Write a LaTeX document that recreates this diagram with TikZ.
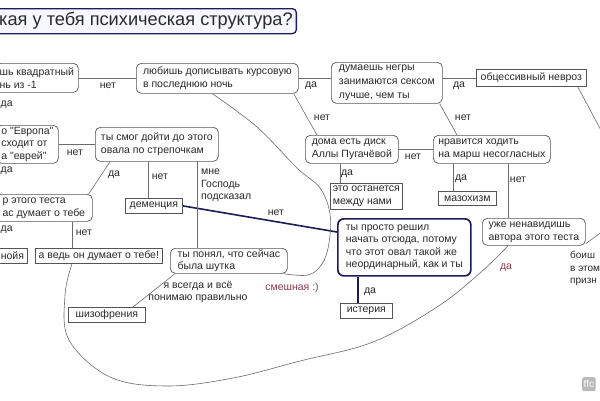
\documentclass[tikz,border=0pt]{standalone}
\usepackage{fontspec}
\setmainfont{Liberation Sans}[Ligatures=TeXOff]
\usetikzlibrary{calc,backgrounds}
\definecolor{ink}{HTML}{2A2A2A}
\definecolor{edgec}{HTML}{6B6B6B}
\definecolor{boxc}{HTML}{555555}
\definecolor{navy}{HTML}{1C1C5C}
\definecolor{maroonc}{HTML}{8E3B4B}
\begin{document}
\begin{tikzpicture}[x=1pt,y=-1pt,
  every node/.style={text=ink, font=\fontsize{10.5}{13}\selectfont},
  rbox/.style={draw=boxc, rounded corners=5pt, fill=white, inner xsep=4pt, inner ysep=1pt, align=left, anchor=north west, line width=0.7pt},
  strongbox/.style={rbox, draw=navy, line width=1.7pt, rounded corners=6pt},
  sbox/.style={draw=boxc, fill=white, inner xsep=2pt, inner ysep=0pt, anchor=north west, align=left, line width=0.7pt},
  lbl/.style={inner sep=0pt},
  conn/.style={draw=edgec, line width=0.6pt},
  strong/.style={draw=navy, line width=1.6pt},
]
\useasboundingbox (0,0) rectangle (600,400);
% title
\node[draw=navy, line width=1.3pt, fill=blue!3, rounded corners=4pt, anchor=north east, minimum width=320pt, minimum height=25pt] (tb) at (297,8) {};
\node[anchor=west, inner sep=0pt, font=\fontsize{18.2}{20}\selectfont] (tt) at (-1,20.5) {кая у тебя психическая структура?};
% rounded boxes
\node[rbox, minimum width=83pt, minimum height=29pt] (n1) at (-5,63) {шь квадратный\\нь из -1};
\node[rbox, minimum width=162pt, minimum height=30pt] (n2) at (136,63) {любишь дописывать курсовую\\в последнюю ночь};
\node[rbox, minimum width=111pt, minimum height=41pt, font=\fontsize{10.5}{14}\selectfont] (n3) at (331,62) {думаешь негры\\занимаются сексом\\лучше, чем ты};
\node[rbox, minimum width=93pt, minimum height=28pt] (n5) at (305,135) {дома есть диск\\Аллы Пугачёвой};
\node[rbox, minimum width=117pt, minimum height=28pt] (n6) at (433,135) {нравится ходить\\на марш несогласных};
\node[strongbox, minimum width=133pt, minimum height=57pt, font=\fontsize{10.5}{12.5}\selectfont] (n9) at (337,218) {ты просто решил\\начать отсюда, потому\\что этот овал такой же\\неординарный, как и ты};
\node[rbox, minimum width=103pt, minimum height=27pt] (n11) at (482,218) {уже ненавидишь\\автора этого теста};
\node[rbox, minimum width=62pt, minimum height=38pt, font=\fontsize{10.5}{12.5}\selectfont] (n12) at (-4,125) {о "Европа"\\сходит от\\а "еврей"};
\node[rbox, minimum width=123pt, minimum height=34pt] (n13) at (95,127) {ты смог дойти до этого\\овала по стрепочкам};
\node[rbox, minimum width=97pt, minimum height=27pt] (n14) at (-5,194) {р этого теста\\ас думает о тебе};
\node[rbox, minimum width=117pt, minimum height=25pt, font=\fontsize{10.5}{12}\selectfont] (n18) at (170,248) {ты понял, что сейчас\\была шутка};
% square boxes
\node[sbox, minimum width=110pt, minimum height=17pt] (n4) at (476,69) {обцессивный невроз};
\node[sbox, minimum width=72pt, minimum height=26pt] (n7) at (330,183) {это останется\\между нами};
\node[sbox, minimum width=58pt, minimum height=14pt] (n8) at (438,191) {мазохизм};
\node[sbox, minimum width=52pt, minimum height=15pt] (n10) at (340,303) {истерия};
\node[sbox, minimum width=30pt, minimum height=15pt] (n15) at (-3,248) {нойя};
\node[sbox, minimum width=127pt, minimum height=15pt] (n16) at (35,248) {а ведь он думает о тебе!};
\node[sbox, minimum width=57pt, minimum height=15pt] (n17) at (125,198) {деменция};
\node[sbox, minimum width=77pt, minimum height=15pt] (n19) at (68,307) {шизофрения};
% labels
\node[lbl] (l1) at (108,86) {нет};
\node[lbl, anchor=west] (l2) at (0.5,105) {да};
\node[lbl] (l3) at (311,86) {да};
\node[lbl] (l4) at (322,118) {нет};
\node[lbl] (l5) at (459,86) {да};
\node[lbl] (l6) at (463,118) {нет};
\node[lbl] (l7) at (413,157) {нет};
\node[lbl] (l8) at (347,174) {да};
\node[lbl] (l9) at (461,179) {да};
\node[lbl] (l10) at (518,180) {нет};
\node[lbl] (l11) at (75,153) {нет};
\node[lbl, anchor=west] (l12) at (0.5,171) {да};
\node[lbl] (l13) at (114,175) {да};
\node[lbl] (l14) at (160,177) {нет};
\node[lbl, anchor=north west, align=left, font=\fontsize{10.5}{12.5}\selectfont] (l15) at (201,169) {мне\\Господь\\подсказал};
\node[lbl, anchor=west] (l16) at (0.5,230) {да};
\node[lbl] (l17) at (84,233) {нет};
\node[lbl] (l18) at (276,213) {нет};
\node[lbl] (l19) at (370,292) {да};
\node[lbl, align=center, font=\fontsize{10.5}{12}\selectfont] (l20) at (198,292) {я всегда и всё\\понимаю правильно};
\node[lbl, text=maroonc] (l21) at (292,288) {смешная :)};
\node[lbl, text=maroonc] (l22) at (506,268) {да};
\node[lbl, anchor=north west, align=left, font=\fontsize{10}{12.5}\selectfont] (l23) at (570,251) {боиш\\в этом\\призн};
\node[fill=gray!55, text=white, rounded corners=2pt, anchor=north west, inner sep=1.5pt, minimum height=14pt, font=\fontsize{10}{12}\selectfont] (ffc) at (582,377) {ffc};
% helper coordinates
\coordinate (fr1) at (603,134);
\coordinate (fr2) at (603,231);
\coordinate (a5) at ([xshift=35pt]n5.south west);
\coordinate (a6) at ([xshift=20pt]n6.south west);
\coordinate (b6) at ([xshift=75pt]n6.south west);
\coordinate (a9) at ([xshift=21pt]n9.south west);
\coordinate (a13) at ([xshift=53pt]n13.south west);
\coordinate (b13) at ([xshift=102pt]n13.south west);
\coordinate (a14) at ([xshift=77pt]n14.south west);
\coordinate (c2s) at ([xshift=-5pt]n2.south);
\coordinate (c18) at ([xshift=-4pt]n18.south east);
\coordinate (c16s) at ([xshift=37pt]n16.south west);
\coordinate (c11s) at ([xshift=26pt]n11.south west);
\begin{scope}[on background layer]
\fill[white] (0,0) rectangle (600,400);
\draw[conn] (n1.east) -- (n1.east -| n2.west);
\draw[conn] (n2.east) -- (n2.east -| n3.west);
\draw[conn] (n4.west -| n3.east) -- (n4.west);
\draw[conn] ([xshift=-5pt]n2.south east) -- ([xshift=12pt]n5.north west);
\draw[conn] ([xshift=-3pt]n3.south east) -- ([xshift=24pt]n6.north west);
\draw[conn] ([xshift=-9pt]n4.south east) -- (fr1);
\draw[conn] (n5.east) -- (n5.east -| n6.west);
\draw[conn] (a5) -- (a5 |- n7.north);
\draw[conn] (a6) -- (a6 |- n8.north);
\draw[conn] (b6) -- (b6 |- n11.north);
\draw[strong] (a9) -- (a9 |- n10.north);
\draw[strong] (n17.east) -- ([yshift=-14pt]n9.north west);
\draw[conn] (n12.east) -- (n12.east -| n13.west);
\draw[conn] ([xshift=15pt]n13.south west) -- ([xshift=-4pt]n14.north east);
\draw[conn] (a13) -- (a13 |- n17.north);
\draw[conn] (b13) -- (b13 |- n18.north);
\draw[conn] (a14) -- (a14 |- n16.north);
\draw[conn] ([xshift=5pt]n18.south west) -- ([xshift=65pt]n19.north west);
\draw[conn] plot[smooth, tension=0.6] coordinates {(c2s) (257,127) (297,168) (320,188) (330,214) (329,243) (322,264) (308,275) (c18)};
\draw[conn] plot[smooth, tension=0.6] coordinates {(c16s) (65,295) (69,340) (110,377) (167,386) (233,378) (300,361) (373,342) (437,307) (480,273) (c11s)};
\draw[conn] ([yshift=2pt]n11.south east) -- (fr2);
\end{scope}
\end{tikzpicture}
\end{document}
